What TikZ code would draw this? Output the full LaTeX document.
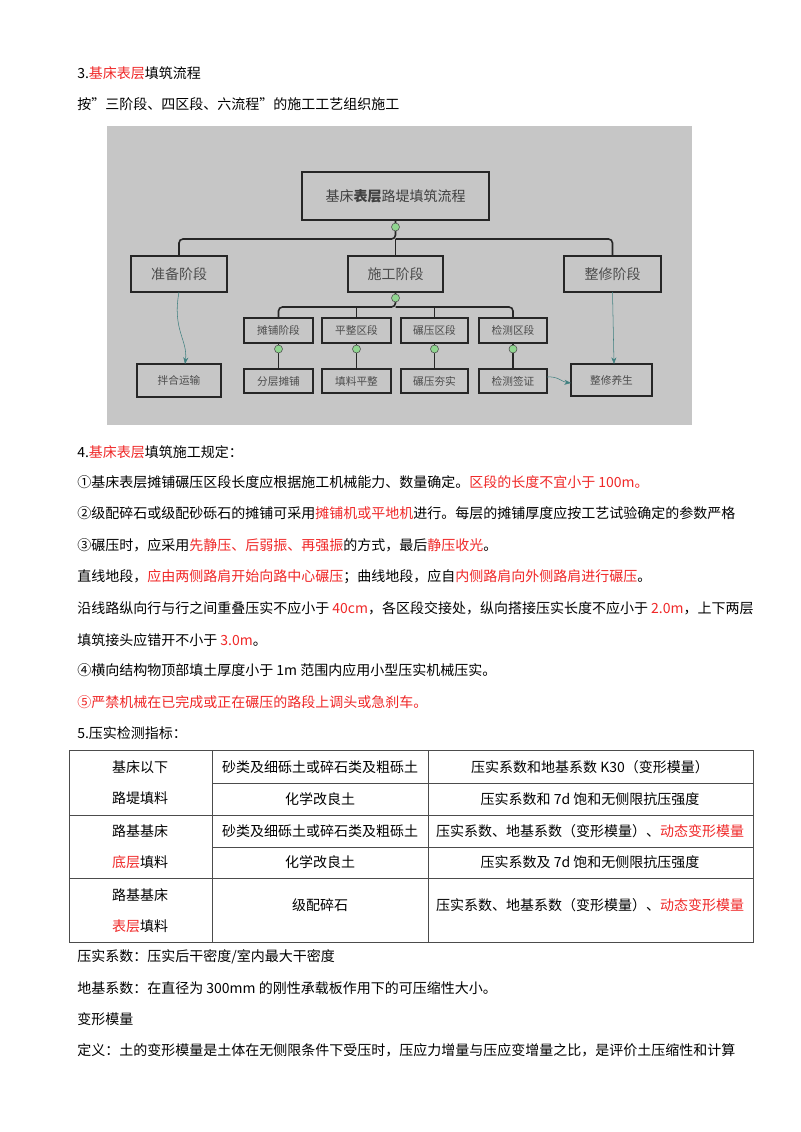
\documentclass[tikz,border=0pt]{standalone}
\usepackage{fontspec}
\setmainfont{Noto Sans CJK SC}
\usetikzlibrary{arrows.meta}
\definecolor{rd}{RGB}{240,40,40}
\newcommand{\R}[1]{\textcolor{rd}{#1}}
\begin{document}
\begin{tikzpicture}[x=0.75pt,y=-0.75pt,
  tl/.style={anchor=west,inner sep=0,font=\fontsize{10.5}{12}\selectfont},
  tc/.style={inner sep=0,font=\fontsize{10.5}{12}\selectfont},
  ln/.style={line width=1.2pt,black!85,rounded corners=3pt},
  gc/.style={circle,draw=black!70,fill=green!45!gray!60,minimum size=6pt,inner sep=0},
  ga/.style={draw=teal!50!gray,-{Stealth[length=5pt]},thin}]
\useasboundingbox (0,0) rectangle (800,1132);
\fill[white] (0,0) rectangle (800,1132);
\node[tl] (t1) at (77,73) {3.\R{基床表层}填筑流程};
\node[tl] (t2) at (77,104) {按"三阶段、四区段、六流程"的施工工艺组织施工};
% flowchart image
\fill[gray!45] (107,126) rectangle (692,425);
\draw[line width=1.2pt,black!85] (302,172) rectangle (489,220);
\node[inner sep=0,font=\fontsize{10.5}{12}\selectfont,text=black!75] (top) at (395.5,196) {基床\textbf{表层}路堤填筑流程};
\coordinate (topb) at (395.5,220);
\foreach \n/\a/\b/\y/\c/\t/\f in {
 p1/131/227/256/292/准备阶段/10.5, p2/348/443/256/292/施工阶段/10.5, p3/564/661/256/292/整修阶段/10.5,
 q1/244/313/318/343/摊铺阶段/8, q2/322/391/318/343/平整区段/8, q3/401/468/318/343/碾压区段/8, q4/479/547/318/343/检测区段/8,
 r0/137/221/364/397/拌合运输/8, r1/244/313/369/393/分层摊铺/8, r2/322/391/369/393/填料平整/8, r3/401/468/369/393/碾压夯实/8, r4/479/547/369/393/检测签证/8, r5/571/652/364/396/整修养生/8}{
 \draw[line width=1.2pt,black!85] (\a,\y) rectangle (\b,\c);
 \node[inner sep=0,font=\fontsize{\f}{12}\selectfont,text=black!70] (\n) at ({(\a+\b)/2},{(\y+\c)/2}) {\t};
}
\draw[ln] (topb) -- (395.5,239) -| (p1.center |- 0,256);
\draw[ln] (395.5,239) -| (p3.center |- 0,256);
\draw[ln] (395.5,239) -- (p2.center |- 0,256);
\node[gc] (g0) at (395.5,227) {};
\draw[ln] (p2.center |- 0,292) -- (395.5,307) -| (q1.center |- 0,318);
\draw[ln] (395.5,307) -| (q4.center |- 0,318);
\draw[ln] (q2.center |- 0,307) -- (q2.center |- 0,318);
\draw[ln] (q3.center |- 0,307) -- (q3.center |- 0,318);
\node[gc] (g1) at (395.5,298) {};
\foreach \i in {1,2,3,4}{
 \draw[line width=1.2pt,black!85] (q\i.center |- 0,343) -- (r\i.center |- 0,369);
 \node[gc] at (q\i.center |- 0,349) {};
}
\draw[ga] (p1.center |- 0,292) .. controls (172,330) and (188,340) .. (185,364);
\draw[ga] (p3.center |- 0,292) -- (614,364);
\draw[ga] (547,377) .. controls (558,376) and (562,382) .. (571,383);
% text
\node[tl] (t3) at (77,452) {4.\R{基床表层}填筑施工规定：};
\node[tl] (t4) at (77,482) {①基床表层摊铺碾压区段长度应根据施工机械能力、数量确定。\R{区段的长度不宜小于 100m。}};
\node[tl] (t5) at (77,513) {②级配碎石或级配砂砾石的摊铺可采用\R{摊铺机或平地机}进行。每层的摊铺厚度应按工艺试验确定的参数严格};
\node[tl] (t6) at (77,545) {③碾压时，应采用\R{先静压、后弱振、再强振}的方式，最后\R{静压收光}。};
\node[tl] (t7) at (77,577) {直线地段，\R{应由两侧路肩开始向路中心碾压}；曲线地段，应自\R{内侧路肩向外侧路肩进行碾压}。};
\node[tl] (t8) at (77,608) {沿线路纵向行与行之间重叠压实不应小于 \R{40cm}，各区段交接处，纵向搭接压实长度不应小于 \R{2.0m}，上下两层};
\node[tl] (t9) at (77,640) {填筑接头应错开不小于 \R{3.0m}。};
\node[tl] (t10) at (77,670) {④横向结构物顶部填土厚度小于 1m 范围内应用小型压实机械压实。};
\node[tl] (t11) at (77,702) {\R{⑤严禁机械在已完成或正在碾压的路段上调头或急刹车。}};
\node[tl] (t12) at (77,733) {5.压实检测指标：};
% table
\draw[black!70] (69,750) rectangle (753,942);
\draw[black!70] (212,750) -- (212,942) (428,750) -- (428,942);
\draw[black!70] (69,815) -- (753,815) (69,878) -- (753,878);
\draw[black!70] (212,783) -- (753,783) (212,847) -- (753,847);
\node[tc] (a1) at (140,767) {基床以下};
\node[tc] (a2) at (140,798) {路堤填料};
\node[tc] (a3) at (140,831) {路基基床};
\node[tc] (a4) at (140,862) {\R{底层}填料};
\node[tc] (a5) at (140,895) {路基基床};
\node[tc] (a6) at (140,926) {\R{表层}填料};
\node[tc] (b1) at (320,767) {砂类及细砾土或碎石类及粗砾土};
\node[tc] (b2) at (320,799) {化学改良土};
\node[tc] (b3) at (320,831) {砂类及细砾土或碎石类及粗砾土};
\node[tc] (b4) at (320,862) {化学改良土};
\node[tc] (b5) at (320,905) {级配碎石};
\node[tc] (c1) at (590,767) {压实系数和地基系数 K30（变形模量）};
\node[tc] (c2) at (590,799) {压实系数和 7d 饱和无侧限抗压强度};
\node[tc] (c3) at (590,831) {压实系数、地基系数（变形模量）、\R{动态变形模量}};
\node[tc] (c4) at (590,862) {压实系数及 7d 饱和无侧限抗压强度};
\node[tc] (c5) at (590,905) {压实系数、地基系数（变形模量）、\R{动态变形模量}};
\node[tl] (t13) at (77,957) {压实系数：压实后干密度/室内最大干密度};
\node[tl] (t14) at (77,988) {地基系数：在直径为 300mm 的刚性承载板作用下的可压缩性大小。};
\node[tl] (t15) at (77,1019) {变形模量};
\node[tl] (t16) at (77,1050) {定义：土的变形模量是土体在无侧限条件下受压时，压应力增量与压应变增量之比，是评价土压缩性和计算};
\end{tikzpicture}
\end{document}
